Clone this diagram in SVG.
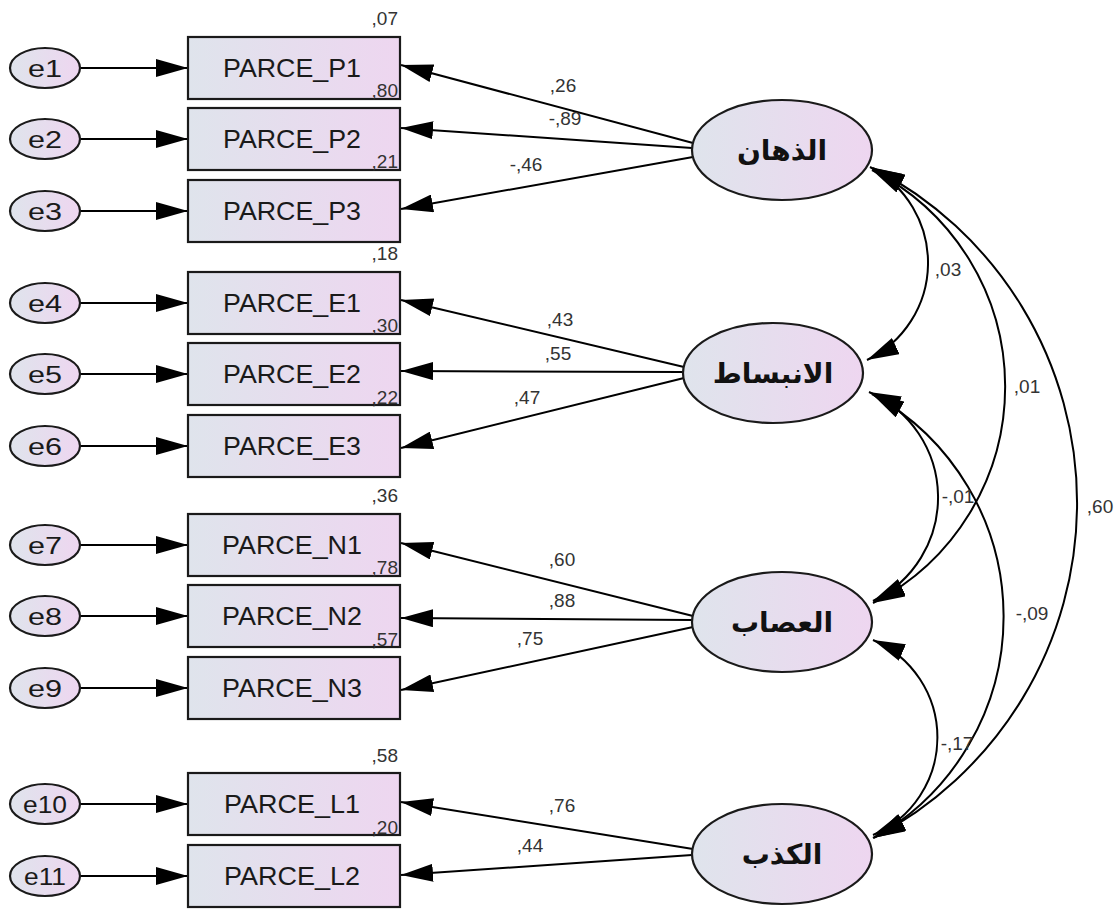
<svg xmlns="http://www.w3.org/2000/svg" width="1119" height="910" viewBox="0 0 1119 910">
<defs>
<linearGradient id="g" x1="0" y1="0" x2="1" y2="0">
<stop offset="0" stop-color="#dfe4ec"/>
<stop offset="1" stop-color="#eed6f0"/>
</linearGradient>
<marker id="ah" markerUnits="userSpaceOnUse" markerWidth="32" markerHeight="18" viewBox="0 0 32 18" refX="32" refY="9" orient="auto-start-reverse">
<path d="M0,0 L32,9 L0,18 z" fill="#000"/>
</marker>
<style>
.box{fill:url(#g);stroke:#1a1a1a;stroke-width:2.2}
.ell{fill:url(#g);stroke:#1a1a1a;stroke-width:2.2}
.bl{font-family:"Liberation Sans",Arial,sans-serif;font-size:25px;fill:#1a1a1a;text-anchor:middle}
.el{font-family:"Liberation Sans",Arial,sans-serif;font-size:24px;fill:#1a1a1a;text-anchor:middle}
.ar{font-family:"DejaVu Sans",sans-serif;font-size:28px;font-weight:bold;fill:#111;text-anchor:middle}
.n{font-family:"Liberation Sans",Arial,sans-serif;font-size:19px;fill:#333}
.r{text-anchor:end}
.c{text-anchor:middle}
.ln{stroke:#000;stroke-width:2;fill:none;marker-end:url(#ah)}
.cv{stroke:#000;stroke-width:2;fill:none;marker-end:url(#ah);marker-start:url(#ah)}
</style>
</defs>
<rect width="1119" height="910" fill="#fff"/>

<g id="connectors">
<line class="ln" x1="81" y1="68" x2="188" y2="68"/>
<line class="ln" x1="81" y1="139" x2="188" y2="139"/>
<line class="ln" x1="81" y1="211" x2="188" y2="211"/>
<line class="ln" x1="81" y1="303" x2="188" y2="303"/>
<line class="ln" x1="81" y1="374" x2="188" y2="374"/>
<line class="ln" x1="81" y1="446" x2="188" y2="446"/>
<line class="ln" x1="81" y1="545" x2="188" y2="545"/>
<line class="ln" x1="81" y1="616" x2="188" y2="616"/>
<line class="ln" x1="81" y1="688" x2="188" y2="688"/>
<line class="ln" x1="81" y1="804" x2="188" y2="804"/>
<line class="ln" x1="81" y1="876" x2="188" y2="876"/>
<line class="ln" x1="693" y1="143" x2="401" y2="65"/>
<line class="ln" x1="692" y1="148" x2="401" y2="128"/>
<line class="ln" x1="693" y1="157" x2="401" y2="209"/>
<line class="ln" x1="684" y1="367" x2="401" y2="300"/>
<line class="ln" x1="683" y1="372" x2="401" y2="371"/>
<line class="ln" x1="684" y1="378" x2="401" y2="448"/>
<line class="ln" x1="693" y1="616" x2="401" y2="543"/>
<line class="ln" x1="692" y1="620" x2="401" y2="618"/>
<line class="ln" x1="693" y1="627" x2="401" y2="690"/>
<line class="ln" x1="693" y1="849" x2="401" y2="802"/>
<line class="ln" x1="692" y1="855" x2="401" y2="875"/>
<path class="cv" d="M870,167 A108,108 0 0 1 867,360"/>
<path class="cv" d="M872,170 A243,243 0 0 1 873,603"/>
<path class="cv" d="M873,168 A377,377 0 0 1 873,838"/>
<path class="cv" d="M869,392 A115,115 0 0 1 873,601"/>
<path class="cv" d="M872,394 A254,254 0 0 1 874,838"/>
<path class="cv" d="M873,640 A106,106 0 0 1 873,835"/>
</g>

<g id="e1"><ellipse class="ell" cx="45" cy="68" rx="35" ry="20"/><text class="el" x="45" y="77" textLength="34" lengthAdjust="spacingAndGlyphs">e1</text></g>
<g id="e2"><ellipse class="ell" cx="45" cy="139" rx="35" ry="20"/><text class="el" x="45" y="148" textLength="34" lengthAdjust="spacingAndGlyphs">e2</text></g>
<g id="e3"><ellipse class="ell" cx="45" cy="211" rx="35" ry="20"/><text class="el" x="45" y="220" textLength="34" lengthAdjust="spacingAndGlyphs">e3</text></g>
<g id="e4"><ellipse class="ell" cx="45" cy="303" rx="35" ry="20"/><text class="el" x="45" y="312" textLength="34" lengthAdjust="spacingAndGlyphs">e4</text></g>
<g id="e5"><ellipse class="ell" cx="45" cy="374" rx="35" ry="20"/><text class="el" x="45" y="383" textLength="34" lengthAdjust="spacingAndGlyphs">e5</text></g>
<g id="e6"><ellipse class="ell" cx="45" cy="446" rx="35" ry="20"/><text class="el" x="45" y="455" textLength="34" lengthAdjust="spacingAndGlyphs">e6</text></g>
<g id="e7"><ellipse class="ell" cx="45" cy="545" rx="35" ry="20"/><text class="el" x="45" y="554" textLength="34" lengthAdjust="spacingAndGlyphs">e7</text></g>
<g id="e8"><ellipse class="ell" cx="45" cy="616" rx="35" ry="20"/><text class="el" x="45" y="625" textLength="34" lengthAdjust="spacingAndGlyphs">e8</text></g>
<g id="e9"><ellipse class="ell" cx="45" cy="688" rx="35" ry="20"/><text class="el" x="45" y="697" textLength="34" lengthAdjust="spacingAndGlyphs">e9</text></g>
<g id="e10"><ellipse class="ell" cx="45" cy="804" rx="35" ry="20"/><text class="el" x="45" y="813" textLength="44" lengthAdjust="spacingAndGlyphs">e10</text></g>
<g id="e11"><ellipse class="ell" cx="45" cy="876" rx="35" ry="20"/><text class="el" x="45" y="885" textLength="42" lengthAdjust="spacingAndGlyphs">e11</text></g>

<g id="P1"><rect class="box" x="188" y="37" width="212" height="62"/><text class="bl" x="292" y="77" textLength="138" lengthAdjust="spacingAndGlyphs">PARCE_P1</text></g>
<g id="P2"><rect class="box" x="188" y="108" width="212" height="62"/><text class="bl" x="292" y="148" textLength="138" lengthAdjust="spacingAndGlyphs">PARCE_P2</text></g>
<g id="P3"><rect class="box" x="188" y="180" width="212" height="62"/><text class="bl" x="292" y="220" textLength="138" lengthAdjust="spacingAndGlyphs">PARCE_P3</text></g>
<g id="E1"><rect class="box" x="188" y="272" width="212" height="62"/><text class="bl" x="292" y="312" textLength="138" lengthAdjust="spacingAndGlyphs">PARCE_E1</text></g>
<g id="E2"><rect class="box" x="188" y="343" width="212" height="62"/><text class="bl" x="292" y="383" textLength="138" lengthAdjust="spacingAndGlyphs">PARCE_E2</text></g>
<g id="E3"><rect class="box" x="188" y="415" width="212" height="62"/><text class="bl" x="292" y="455" textLength="138" lengthAdjust="spacingAndGlyphs">PARCE_E3</text></g>
<g id="N1"><rect class="box" x="188" y="514" width="212" height="62"/><text class="bl" x="292" y="554" textLength="140" lengthAdjust="spacingAndGlyphs">PARCE_N1</text></g>
<g id="N2"><rect class="box" x="188" y="585" width="212" height="62"/><text class="bl" x="292" y="625" textLength="140" lengthAdjust="spacingAndGlyphs">PARCE_N2</text></g>
<g id="N3"><rect class="box" x="188" y="657" width="212" height="62"/><text class="bl" x="292" y="697" textLength="140" lengthAdjust="spacingAndGlyphs">PARCE_N3</text></g>
<g id="L1"><rect class="box" x="188" y="773" width="212" height="62"/><text class="bl" x="292" y="813" textLength="136" lengthAdjust="spacingAndGlyphs">PARCE_L1</text></g>
<g id="L2"><rect class="box" x="188" y="845" width="212" height="62"/><text class="bl" x="292" y="885" textLength="136" lengthAdjust="spacingAndGlyphs">PARCE_L2</text></g>

<g id="F1"><ellipse class="ell" cx="782" cy="150" rx="90" ry="50"/><text class="ar" x="782" y="160">الذهان</text></g>
<g id="F2"><ellipse class="ell" cx="773" cy="373" rx="90" ry="50"/><text class="ar" x="773" y="383">الانبساط</text></g>
<g id="F3"><ellipse class="ell" cx="782" cy="622" rx="90" ry="50"/><text class="ar" x="782" y="632">العصاب</text></g>
<g id="F4"><ellipse class="ell" cx="782" cy="854" rx="90" ry="50"/><text class="ar" x="782" y="864">الكذب</text></g>

<g id="r2">
<text class="n r" x="398" y="25">,07</text>
<text class="n r" x="398" y="97">,80</text>
<text class="n r" x="398" y="168">,21</text>
<text class="n r" x="398" y="260">,18</text>
<text class="n r" x="398" y="332">,30</text>
<text class="n r" x="398" y="404">,22</text>
<text class="n r" x="398" y="502">,36</text>
<text class="n r" x="398" y="574">,78</text>
<text class="n r" x="398" y="646">,57</text>
<text class="n r" x="398" y="762">,58</text>
<text class="n r" x="398" y="834">,20</text>
</g>
<g id="loadings">
<text class="n c" x="563" y="92">,26</text>
<text class="n c" x="565" y="125">-,89</text>
<text class="n c" x="526" y="171">-,46</text>
<text class="n c" x="560" y="326">,43</text>
<text class="n c" x="558" y="360">,55</text>
<text class="n c" x="527" y="404">,47</text>
<text class="n c" x="562" y="566">,60</text>
<text class="n c" x="562" y="607">,88</text>
<text class="n c" x="530" y="645">,75</text>
<text class="n c" x="562" y="812">,76</text>
<text class="n c" x="530" y="852">,44</text>
</g>
<g id="cov">
<text class="n c" x="948" y="276">,03</text>
<text class="n c" x="1027" y="393">,01</text>
<text class="n c" x="958" y="503">-,01</text>
<text class="n c" x="1100" y="513">,60</text>
<text class="n c" x="1032" y="620">-,09</text>
<text class="n c" x="957" y="750">-,17</text>
</g>
</svg>
